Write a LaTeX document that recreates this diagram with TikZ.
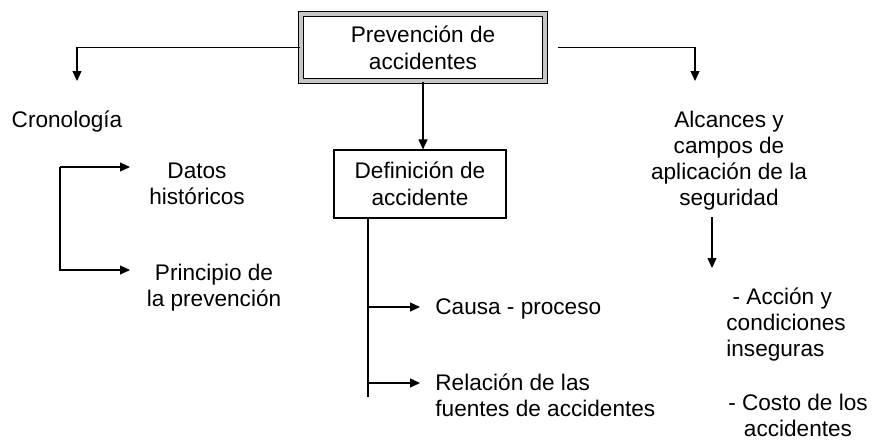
\documentclass[tikz,border=0pt]{standalone}
\usepackage{fontspec}
\setmainfont{Liberation Sans}
\usetikzlibrary{arrows.meta}

\begin{document}
\begin{tikzpicture}[x=0.5pt,y=-0.5pt]
            \tikzstyle{every node}+=[inner sep=0pt, font=\fontsize{11.3}{13}\selectfont]
            \tikzstyle{arr}=[-{Triangle[length=5pt,width=4.5pt]}, line width=0.6pt]
            \tikzstyle{lnk}=[line width=0.6pt]
            \useasboundingbox (0,0) rectangle (872,439);
            % boxes
            \node [draw, double=gray!45, double distance=1.8pt, line width=0.55pt, minimum width=122pt, minimum height=33.5pt, align=center, font=\fontsize{11.3}{13.5}\selectfont] (prev) at (423,47.5) {Prevención de\\accidentes};
            \node [draw, line width=0.6pt, minimum width=86pt, minimum height=34pt, align=center, font=\fontsize{11.3}{13.5}\selectfont] (defi) at (420,184) {Definición de\\accidente};
            % texts
            \node (crono) at (67,122) {Cronología};
            \node [align=center] (datos) at (197,184) {Datos\\históricos};
            \node [align=center] (princ) at (214,288) {Principio de\\la prevención};
            \node [anchor=west] (causa) at (435,309) {Causa - proceso};
            \node [anchor=west, align=left] (rel) at (435,395) {Relación de las\\fuentes de accidentes};
            \node [align=center] (alc) at (729,161) {Alcances y\\campos de\\aplicación de la\\seguridad};
            \node [anchor=west, align=left] (acc) at (726,325) {\ - Acción y\\condiciones\\inseguras};
            \node [align=center] (costo) at (798,415) {- Costo de los\\accidentes};
            % free ends
            \coordinate (c1) at (77,81);
            \coordinate (c2) at (695,81);
            \coordinate (bk) at (60,167);
            \coordinate (dt) at (130,167);
            \coordinate (pt) at (130,270);
            \coordinate (s0) at (368,397);
            \coordinate (t1) at (420,307);
            \coordinate (t2) at (420,383);
            \coordinate (a1) at (712,217);
            \coordinate (a2) at (712,268);
            % connectors
            \draw [arr] (prev.west) -| (c1);
            \draw [arr] ([xshift=6pt]prev.east) -| (c2);
            \draw [arr] (prev.south) -- (prev.south |- defi.north);
            \draw [arr] (bk) -- (dt);
            \draw [arr] (bk) |- (pt);
            \draw [lnk] (defi.south -| s0) -- (s0);
            \draw [arr] (t1 -| s0) -- (t1);
            \draw [arr] (t2 -| s0) -- (t2);
            \draw [arr] (a1) -- (a2);
\end{tikzpicture}
\end{document}
